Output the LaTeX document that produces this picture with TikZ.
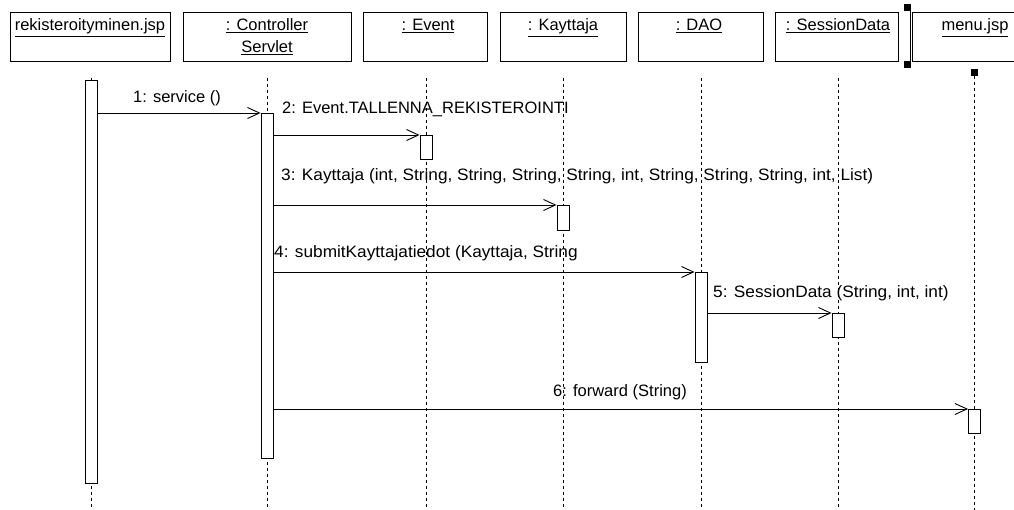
\documentclass[tikz,border=0pt]{standalone}
\usepackage{fontspec}
\usepackage{graphicx}
\setmainfont{Liberation Sans}
\usetikzlibrary{arrows.meta}
\newcommand{\widetext}[1]{\scalebox{1.045}[1]{#1}}
\begin{document}
\begin{tikzpicture}[x=1pt,y=-1pt,
  every node/.style={font=\fontsize{16.5}{20}\selectfont},
  objbox/.style={draw, line width=0.9pt, minimum height=49pt, inner sep=0pt, anchor=north},
  objname/.style={anchor=base, inner sep=0pt},
  lifeline/.style={line width=0.9pt, dash pattern=on 3pt off 3pt},
  actbar/.style={draw, fill=white, line width=0.9pt, minimum width=12pt, inner sep=0pt, anchor=north},
  msg/.style={line width=0.9pt, -{Straight Barb[length=12pt,width=11pt]}},
  msglabel/.style={anchor=base west, inner sep=0pt},
  handle/.style={fill=black, minimum size=7pt, inner sep=0pt}]
\clip (0,0) rectangle (1014,510);
\fill[white] (0,0) rectangle (1014,510);

% object boxes
\node[objbox, minimum width=160pt] (b1) at (90,12) {};
\node[objbox, minimum width=168pt] (b2) at (267,12) {};
\node[objbox, minimum width=124pt] (b3) at (425,12) {};
\node[objbox, minimum width=126pt] (b4) at (563,12) {};
\node[objbox, minimum width=125pt] (b5) at (700.5,12) {};
\node[objbox, minimum width=123pt] (b6) at (837,12) {};
\node[objbox, minimum width=126pt] (b7) at (975,12) {};

% object names
\node[objname] (n1) at (90,31) {\underline{rekisteroityminen.jsp}};
\node[objname] (n2) at (267,31) {\underline{: Controller}};
\node[objname] (n2b) at (267,53) {\underline{Servlet}};
\node[objname] (n3) at (428,31) {\underline{: Event}};
\node[objname] (n4) at (563,31) {\underline{: Kayttaja}};
\node[objname] (n5) at (699,31) {\underline{: DAO}};
\node[objname] (n6) at (838,31) {\underline{: SessionData}};
\node[objname] (n7) at (975,31) {\underline{menu.jsp}};

% lifelines
\coordinate (t1) at (91,78);
\coordinate (t2) at (267,78);
\coordinate (t3) at (426,78);
\coordinate (t4) at (563,78);
\coordinate (t5) at (701,78);
\coordinate (t6) at (838,78);
\coordinate (t7) at (974.5,76);
\coordinate (bottom) at (0,512);
\foreach \i in {1,...,7}
  \draw[lifeline] (t\i) -- (t\i |- bottom);

% activation bars
\node[actbar, minimum height=403pt] (A1) at (91,80) {};
\node[actbar, minimum height=345pt] (A2) at (267,113) {};
\node[actbar, minimum height=24pt] (E1) at (426,135) {};
\node[actbar, minimum height=25pt] (K1) at (563,205) {};
\node[actbar, minimum height=90pt] (D1) at (701,272) {};
\node[actbar, minimum height=24pt] (S1) at (838,313) {};
\node[actbar, minimum height=24pt] (M1) at (974.5,409) {};

% messages
\draw[msg] (A1.east |- A2.north west) -- (A2.north west);
\draw[msg] (A2.east |- E1.north west) -- (E1.north west);
\draw[msg] (A2.east |- K1.north west) -- (K1.north west);
\draw[msg] (A2.east |- D1.north west) -- (D1.north west);
\draw[msg] (D1.east |- S1.north west) -- (S1.north west);
\draw[msg] (A2.east |- M1.north west) -- (M1.north west);

% message labels
\node[msglabel] (l1) at (133,103) {1: service ()};
\node[msglabel] (l2) at (282,114) {2: Event.TALLENNA\_REKISTEROINTI};
\node[msglabel] (l3) at (281,181) {\widetext{3: Kayttaja (int, String, String, String, String, int, String, String, String, int, List)}};
\node[msglabel] (l4) at (274,258) {\widetext{4: submitKayttajatiedot (Kayttaja, String}};
\node[msglabel] (l5) at (713,298) {\widetext{5: SessionData (String, int, int)}};
\node[msglabel] (l6) at (553,396) {6: forward (String)};

% selection handles
\node[handle] (h1) at (907.5,7.5) {};
\node[handle] (h2) at (907.5,64.5) {};
\draw[line width=1.3pt] ([xshift=-0.7pt]h1.south east) -- ([xshift=-0.7pt]h2.north east);
\node[handle] (h3) at (974.5,73) {};
\end{tikzpicture}
\end{document}
